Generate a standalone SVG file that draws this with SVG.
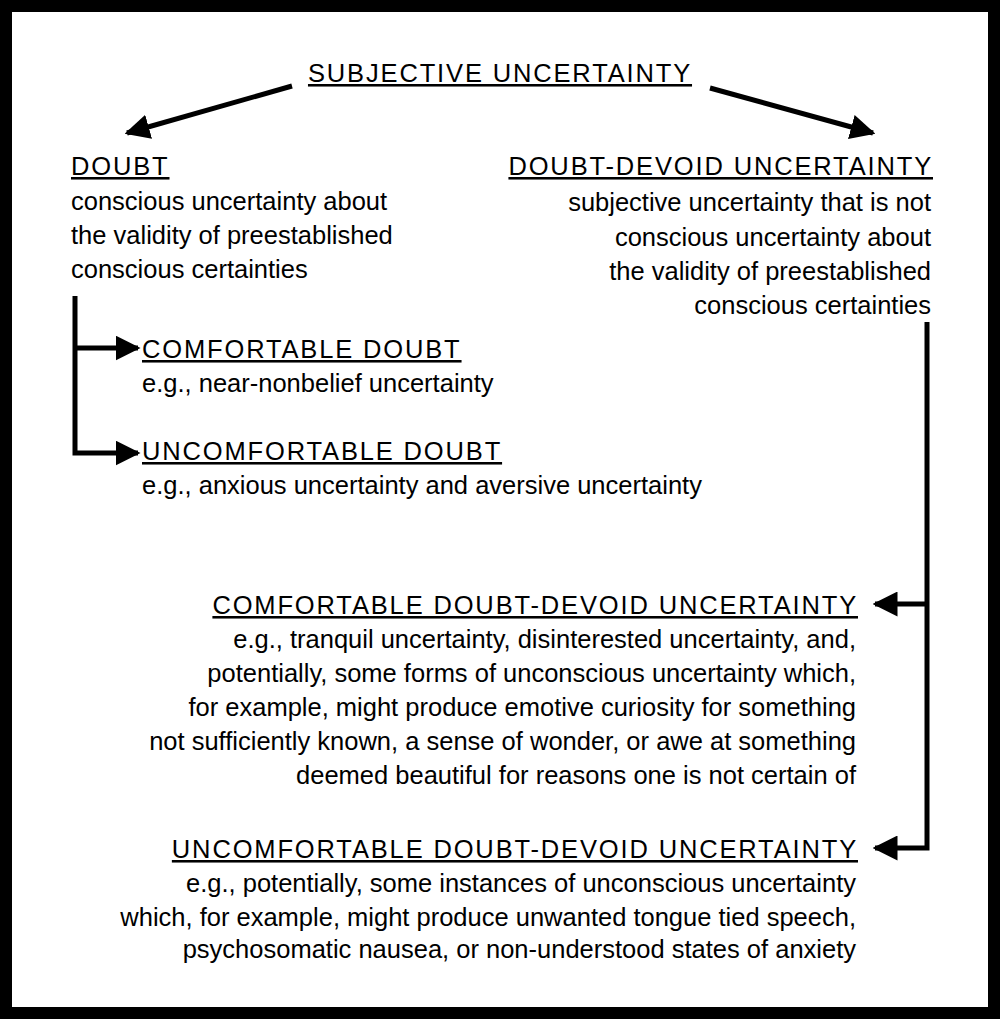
<svg xmlns="http://www.w3.org/2000/svg" width="1000" height="1019" viewBox="0 0 1000 1019">
<style>
text{font-family:"Liberation Sans",Arial,sans-serif;font-size:25.5px;fill:#000}
.h{text-decoration:underline;letter-spacing:1.85px}
.r{text-anchor:end}
.c{fill:none;stroke:#000;stroke-width:5}
</style>
<defs><marker id="a" viewBox="0 0 10 10" refX="9" refY="5" markerWidth="5" markerHeight="5" orient="auto" markerUnits="strokeWidth"><path d="M0,0L10,5L0,10z"/></marker></defs>
<rect x="0" y="0" width="1000" height="1019" fill="#fff"/>
<rect x="6" y="6" width="988" height="1007" fill="none" stroke="#000" stroke-width="12"/>
<g id="connectors">
<path class="c" d="M292,86L127,133" marker-end="url(#a)"/>
<path class="c" d="M710,88L873,133" marker-end="url(#a)"/>
<path class="c" d="M75,296V453H138" marker-end="url(#a)"/>
<path class="c" d="M75,348H138" marker-end="url(#a)"/>
<path class="c" d="M927,322V848H875" marker-end="url(#a)"/>
<path class="c" d="M927,604H875" marker-end="url(#a)"/>
</g>
<g id="root"><text x="500" y="82" text-anchor="middle" class="h">SUBJECTIVE UNCERTAINTY</text></g>
<g id="doubt">
<text x="71" y="175" class="h">DOUBT</text>
<text x="71" y="210">conscious uncertainty about</text>
<text x="71" y="244">the validity of preestablished</text>
<text x="71" y="278">conscious certainties</text>
</g>
<g id="ddu">
<text x="933" y="175" class="h r">DOUBT-DEVOID UNCERTAINTY</text>
<text x="931" y="211" class="r">subjective uncertainty that is not</text>
<text x="931" y="246" class="r">conscious uncertainty about</text>
<text x="931" y="280" class="r">the validity of preestablished</text>
<text x="931" y="314" class="r">conscious certainties</text>
</g>
<g id="cd">
<text x="142" y="358" class="h">COMFORTABLE DOUBT</text>
<text x="142" y="392">e.g., near-nonbelief uncertainty</text>
</g>
<g id="ud">
<text x="142" y="460" class="h">UNCOMFORTABLE DOUBT</text>
<text x="142" y="494">e.g., anxious uncertainty and aversive uncertainty</text>
</g>
<g id="cddu">
<text x="858" y="614" class="h r">COMFORTABLE DOUBT-DEVOID UNCERTAINTY</text>
<text x="856" y="648" class="r">e.g., tranquil uncertainty, disinterested uncertainty, and,</text>
<text x="856" y="682" class="r">potentially, some forms of unconscious uncertainty which,</text>
<text x="856" y="716" class="r">for example, might produce emotive curiosity for something</text>
<text x="856" y="750" class="r">not sufficiently known, a sense of wonder, or awe at something</text>
<text x="856" y="784" class="r">deemed beautiful for reasons one is not certain of</text>
</g>
<g id="uddu">
<text x="858" y="858" class="h r">UNCOMFORTABLE DOUBT-DEVOID UNCERTAINTY</text>
<text x="856" y="892" class="r">e.g., potentially, some instances of unconscious uncertainty</text>
<text x="856" y="926" class="r">which, for example, might produce unwanted tongue tied speech,</text>
<text x="856" y="958" class="r">psychosomatic nausea, or non-understood states of anxiety</text>
</g>
</svg>
